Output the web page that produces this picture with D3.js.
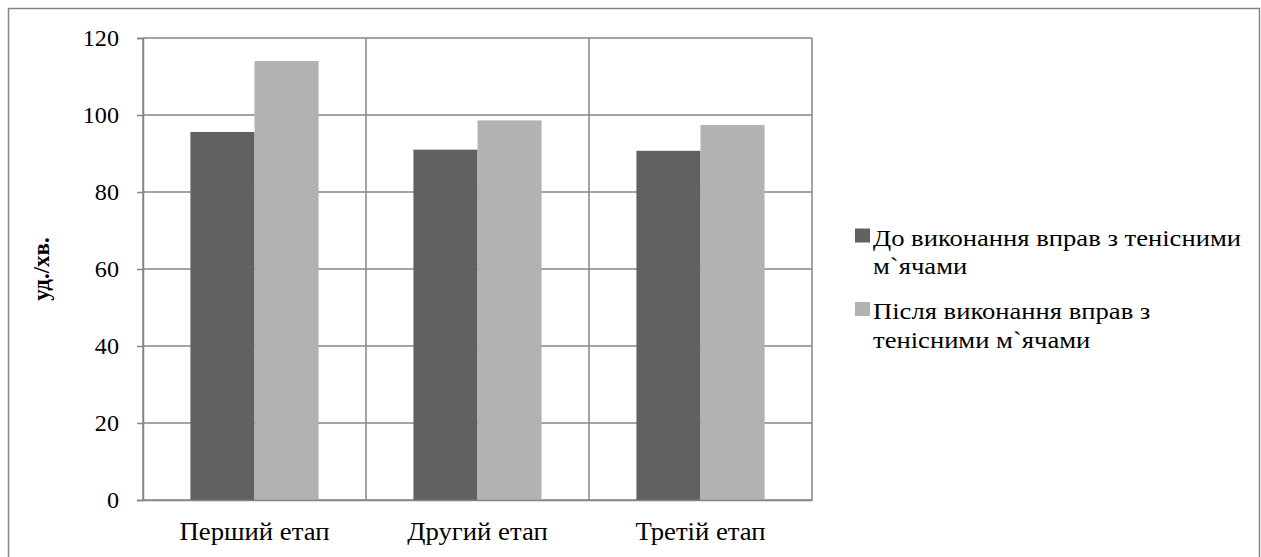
<!DOCTYPE html>
<html><head><meta charset="utf-8">
<script src="https://cdn.jsdelivr.net/npm/d3@7"></script>
<style>body{margin:0;background:#fff}svg{display:block}</style>
</head><body>
<script>
const categories = ["Перший етап", "Другий етап", "Третій етап"];
const seriesNames = ["До виконання вправ з тенісними м`ячами", "Після виконання вправ з тенісними м`ячами"];
const seriesBefore = [95.6, 91.0, 90.7];
const seriesAfter = [114.0, 98.6, 97.4];
const yTicks = [0, 20, 40, 60, 80, 100, 120];
const yTitle = "уд./хв.";
const colors = ["#616161", "#b2b2b2"];
const legendLines = [["До виконання вправ з тенісними", "м`ячами"], ["Після виконання вправ з", "тенісними м`ячами"]];

const FONT = "Liberation Serif";
const W = 1261, H = 557;
const svg = d3.select("body").append("svg").attr("width", W).attr("height", H);

function stretch(sel, f) {
  sel.each(function () {
    const w = this.getComputedTextLength();
    d3.select(this).attr("textLength", w * f).attr("lengthAdjust", "spacingAndGlyphs");
  });
}

svg.append("rect").attr("x", 8.5).attr("y", 8.5).attr("width", 1251).attr("height", 560)
  .attr("fill", "none").attr("stroke", "#868686").attr("stroke-width", 1.5);

const L = 143, R = 812, T = 38, B = 500;
const x = d3.scaleBand().domain(categories).range([L, R]).paddingInner(0).paddingOuter(0);
const y = d3.scaleLinear().domain([0, 120]).range([B, T]);
const inner = d3.scaleBand().domain([0, 1]).range([0, x.bandwidth()]).paddingInner(0).paddingOuter(0.74);

const g = svg.append("g");
g.selectAll("line.h").data(yTicks).enter().append("line")
  .attr("x1", L).attr("x2", R).attr("y1", d => y(d)).attr("y2", d => y(d))
  .attr("stroke", "#868686").attr("stroke-width", 1.5);
const bounds = categories.map(c => x(c) + x.bandwidth()).concat([L]);
g.selectAll("line.v").data(bounds).enter().append("line")
  .attr("x1", d => d).attr("x2", d => d).attr("y1", T).attr("y2", B)
  .attr("stroke", "#868686").attr("stroke-width", 1.5);

const data = [seriesBefore, seriesAfter];
data.forEach((vals, si) => {
  g.selectAll("rect.s" + si).data(vals).enter().append("rect")
    .attr("x", (d, i) => x(categories[i]) + inner(si))
    .attr("width", inner.bandwidth())
    .attr("y", d => y(d))
    .attr("height", d => y(0) - y(d))
    .attr("fill", colors[si]);
});

const yAxis = d3.axisLeft(y).tickValues(yTicks).tickSize(6).tickPadding(18);
const ya = svg.append("g").attr("transform", `translate(${L},0)`).call(yAxis);
ya.select(".domain").attr("stroke", "#868686").attr("stroke-width", 1.5);
ya.selectAll(".tick line").attr("stroke", "#868686").attr("stroke-width", 1.5);
const yt = ya.selectAll("text").style("font-family", FONT).style("font-size", "23px").attr("fill", "#000");
stretch(yt, 1.05);

const xAxis = d3.axisBottom(x).tickSize(0).tickPadding(22);
const xa = svg.append("g").attr("transform", `translate(0,${B})`).call(xAxis);
xa.select(".domain").attr("stroke", "#868686").attr("stroke-width", 1.5);
const xt = xa.selectAll("text").style("font-family", FONT).style("font-size", "25px").attr("fill", "#000");
const firstW = xt.node().getComputedTextLength();
stretch(xt, 150 / firstW);

svg.append("text").attr("transform", `translate(49,${(T + B) / 2}) rotate(-90)`)
  .attr("text-anchor", "middle").style("font-family", FONT).style("font-size", "23px")
  .style("font-weight", "bold").text(yTitle);

const leg = svg.append("g");
const legBase = [245.5, 319];
const items = [];
legendLines.forEach((lines, i) => {
  leg.append("rect").attr("x", 855).attr("y", legBase[i] - 17).attr("width", 15).attr("height", 14).attr("fill", colors[i]);
  lines.forEach((t, j) => {
    items.push(leg.append("text").attr("x", 873).attr("y", legBase[i] + j * 28.5)
      .style("font-family", FONT).style("font-size", "23px").attr("fill", "#000").text(t));
  });
});
const lw = items[0].node().getComputedTextLength();
const lf = 368 / lw;
items.forEach(s => stretch(s, lf));
</script>
</body></html>
